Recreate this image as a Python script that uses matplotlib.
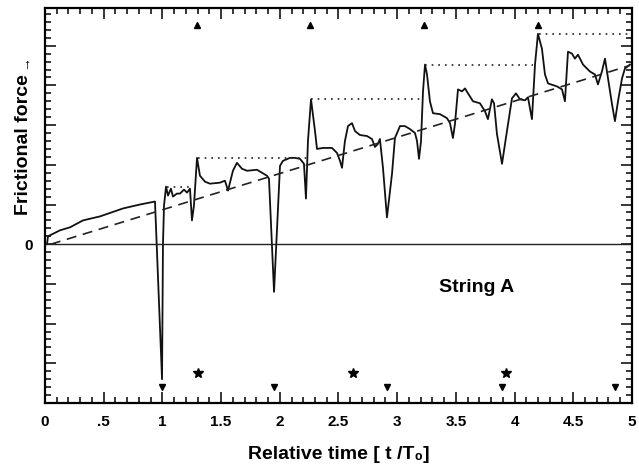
import matplotlib
matplotlib.use("Agg")
import matplotlib.pyplot as plt
from matplotlib.ticker import MultipleLocator, FixedLocator

plt.rcParams['font.family'] = ['Liberation Sans', 'DejaVu Sans']

# frictional force trace (relative time, force)
t = [0.0, 0.017, 0.026, 0.06, 0.128, 0.213, 0.324, 0.468, 0.664, 0.809, 0.937,
     0.997, 1.005, 1.014, 1.031, 1.048, 1.073, 1.09, 1.124, 1.15, 1.184, 1.21,
     1.235, 1.252, 1.269, 1.295, 1.32, 1.363, 1.405, 1.49, 1.533, 1.559, 1.601,
     1.635, 1.678, 1.721, 1.806, 1.848, 1.891, 1.908, 1.951, 1.976, 2.002, 2.027,
     2.087, 2.129, 2.172, 2.206, 2.223, 2.24, 2.266, 2.3, 2.317, 2.368, 2.445,
     2.487, 2.513, 2.53, 2.555, 2.581, 2.615, 2.641, 2.683, 2.743, 2.785, 2.811,
     2.836, 2.853, 2.879, 2.913, 2.956, 2.981, 3.024, 3.066, 3.109, 3.152, 3.169,
     3.186, 3.203, 3.22, 3.237, 3.254, 3.279, 3.305, 3.365, 3.424, 3.45, 3.475,
     3.492, 3.518, 3.552, 3.578, 3.603, 3.646, 3.705, 3.748, 3.773, 3.807, 3.825,
     3.85, 3.893, 3.935, 3.978, 4.012, 4.046, 4.089, 4.114, 4.148, 4.174, 4.199,
     4.233, 4.259, 4.285, 4.361, 4.404, 4.429, 4.455, 4.489, 4.514, 4.54, 4.583,
     4.642, 4.685, 4.71, 4.744, 4.77, 4.796, 4.83, 4.855, 4.881, 4.915, 4.94, 4.983]
force = [0.0, 0.0, 0.2, 0.25, 0.35, 0.425, 0.6, 0.7, 0.9, 1.0, 1.075,
         -3.4, 0.0, 0.975, 1.45, 1.225, 1.4, 1.2, 1.275, 1.275, 1.375, 1.3,
         1.4, 0.6, 0.975, 2.175, 1.725, 1.575, 1.525, 1.55, 1.6, 1.35, 1.85,
         2.05, 1.9, 1.85, 1.875, 1.8, 1.725, 1.65, -1.2, 0.35, 1.975, 2.1,
         2.175, 2.175, 2.15, 2.025, 1.15, 2.6, 3.65, 2.85, 2.4, 2.425, 2.425,
         2.3, 2.1, 1.925, 2.6, 2.975, 3.05, 2.85, 2.75, 2.725, 2.65, 2.45,
         2.525, 2.65, 1.925, 0.675, 1.775, 2.675, 2.975, 2.975, 2.9, 2.8, 2.6,
         2.15, 2.6, 3.85, 4.525, 4.275, 3.6, 3.3, 3.275, 3.175, 3.05, 2.675,
         3.025, 3.9, 3.85, 3.925, 3.8, 3.6, 3.55, 3.35, 3.15, 3.65, 3.55,
         2.775, 2.025, 2.85, 3.675, 3.8, 3.65, 3.625, 3.7, 3.15, 4.525, 5.3,
         4.925, 4.275, 4.05, 3.975, 3.9, 3.6, 4.85, 4.8, 4.675, 4.775, 4.525,
         4.35, 4.275, 4.025, 4.35, 4.675, 4.175, 3.525, 3.1, 3.6, 4.175, 4.425, 4.525]

# mean trend (dashed)
trend_t = [0.05, 4.98]
trend_f = [0.0, 4.5]

# peak levels (dotted): level, start, end
peak_level = [1.45, 2.175, 3.65, 4.525, 5.3]
peak_start = [1.04, 1.30, 2.27, 3.24, 4.21]
peak_end = [1.25, 2.23, 3.21, 4.16, 5.0]

# event markers
up_t = [1.295, 2.26, 3.23, 4.20]
up_y = 5.53
down_t = [1.0, 1.95, 2.91, 3.89, 4.855]
down_y = -3.59
star_t = [1.30, 2.62, 3.93]
star_y = -3.24

xticks = [0, 0.5, 1, 1.5, 2, 2.5, 3, 3.5, 4, 4.5, 5]
xlabels = ['0', '.5', '1', '1.5', '2', '2.5', '3', '3.5', '4', '4.5', '5']

fig = plt.figure(figsize=(6.39, 4.68), dpi=100)
ax = fig.add_axes([0.0704, 0.1389, 0.9186, 0.844])

ax.plot(t, force, color='#111111', lw=1.3)
ax.plot(trend_t, trend_f, color='#222222', lw=1.2, linestyle=(0, (6, 4)))
for lev, a, b in zip(peak_level, peak_start, peak_end):
    ax.plot([a, b], [lev, lev], color='#222222', lw=1.2, linestyle=(0, (1, 3)))
ax.axhline(0, color='#222222', lw=1.0)

ax.plot(up_t, [up_y] * len(up_t), linestyle='none', marker='^', ms=4, color='black')
ax.plot(down_t, [down_y] * len(down_t), linestyle='none', marker='v', ms=4, color='black')
ax.plot(star_t, [star_y] * len(star_t), linestyle='none', marker='*', ms=7, color='black')

ax.text(3.68, -1.08, 'String A', ha='center', va='center', fontsize=14, fontweight='bold')

ax.set_xlim(0, 5)
ax.set_ylim(-4, 5.95)
ax.xaxis.set_major_locator(FixedLocator(xticks))
ax.set_xticklabels(xlabels, fontsize=11, fontweight='bold')
ax.xaxis.set_minor_locator(MultipleLocator(0.1))
ax.yaxis.set_minor_locator(MultipleLocator(0.2))
ax.set_yticks([-3, -2, -1, 0, 1, 2, 3, 4, 5])
ax.set_yticklabels(['', '', '', '0', '', '', '', '', ''], fontsize=11, fontweight='bold')
ax.tick_params(which='both', direction='in', top=True, right=True, width=1.1)
ax.tick_params(which='major', length=8, pad=9)
ax.tick_params(which='minor', length=4)
for s in ax.spines.values():
    s.set_linewidth(1.6)

ax.set_xlabel('Relative time [ t /T\u2080]', fontsize=14, fontweight='bold', labelpad=12)
ax.text(-0.037, 0.655, 'Frictional force', transform=ax.transAxes, rotation=90,
        ha='center', va='center', fontsize=14, fontweight='bold')
ax.text(-0.036, 0.862, '\u2192', transform=ax.transAxes, rotation=90,
        ha='center', va='center', fontsize=10)

fig.savefig('out.png', dpi=100)
